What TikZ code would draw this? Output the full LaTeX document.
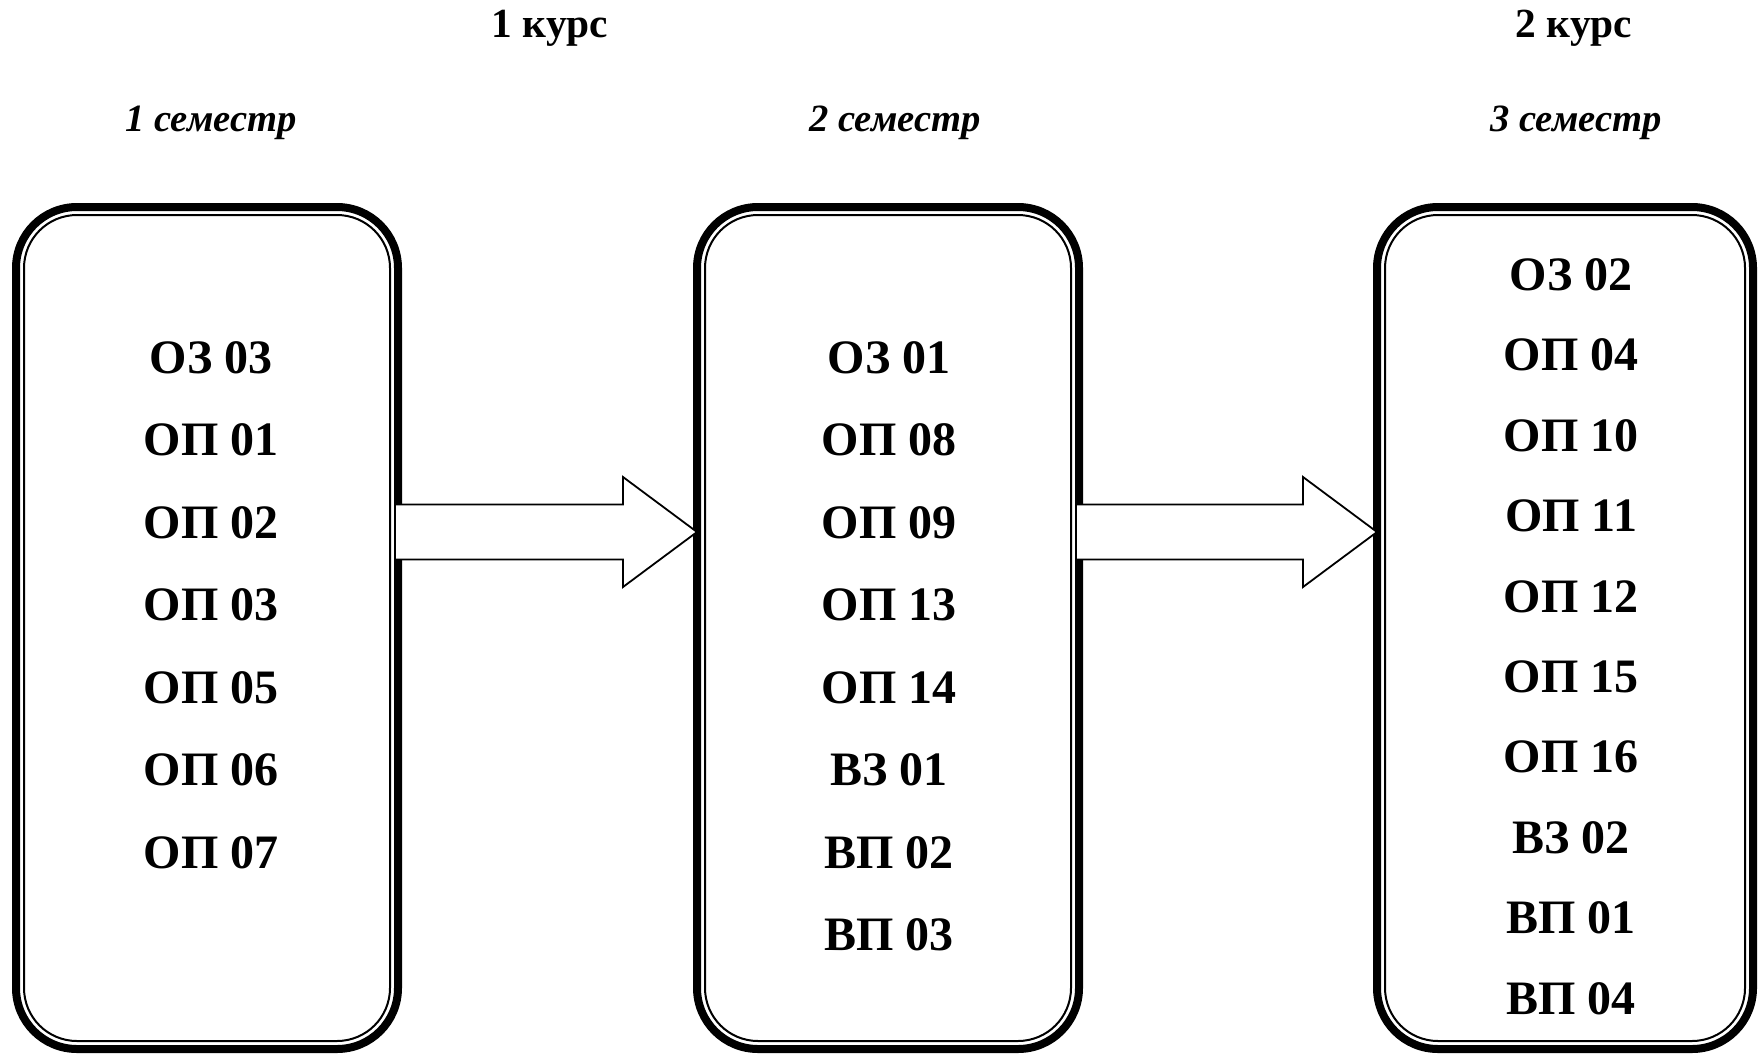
\documentclass[tikz,border=0pt]{standalone}
\usepackage{fontspec}
\setmainfont{Liberation Serif}
\usetikzlibrary{calc,positioning}

% hollow block arrow from one box to the next, at the height of #3
\newcommand{\hollowarrow}[3]{%
  \filldraw[fill=white, line width=0.9pt]
    ($(#1.east |- #3)+(-3,-27.5)$) -- ($(#2.west |- #3)+(-74,-27.5)$)
    -- ($(#2.west |- #3)+(-74,-55)$) -- (#2.west |- #3)
    -- ($(#2.west |- #3)+(-74,55)$) -- ($(#2.west |- #3)+(-74,27.5)$)
    -- ($(#1.east |- #3)+(-3,27.5)$) -- cycle;}

\begin{document}
\begin{tikzpicture}[x=0.5pt, y=-0.5pt,
    semester/.style={draw, line width=4pt, rounded corners=30.5pt, outer sep=0pt, inner sep=0pt, minimum width=191pt, minimum height=421pt},
    inner frame/.style={line width=1pt, rounded corners=26.5pt},
    item/.style={anchor=base, font=\fontsize{24}{24}\selectfont\bfseries},
    course/.style={anchor=base, font=\fontsize{20.7}{21}\selectfont\bfseries},
    term/.style={anchor=base, font=\fontsize{19.3}{19}\selectfont\bfseries\itshape}]

    \useasboundingbox (0,0) rectangle (1760,1054);

    \node[course] (k1) at (550,38) {1 курс};
    \node[course] (k2) at (1574,38) {2 курс};
    \node[term] (t1) at (211,132) {1 семестр};
    \node[term] (t2) at (895,132) {2 семестр};
    \node[term] (t3) at (1576,132) {3 семестр};

    \node[semester] (b1) at (207,628) {};
    \node[semester] (b2) at (888,628) {};
    \node[semester, minimum width=188pt] (b3) at (1565,628) {};
    \foreach \b in {b1,b2,b3}
        \draw[inner frame] ([shift={(8,8)}]\b.north west) rectangle ([shift={(-8,-8)}]\b.south east);

    \coordinate (lvl) at (0,532);
    \hollowarrow{b1}{b2}{lvl}
    \hollowarrow{b2}{b3}{lvl}

    \foreach \t [count=\i] in {ОЗ 03, ОП 01, ОП 02, ОП 03, ОП 05, ОП 06, ОП 07}
        \node[item] (s1-\i) at (211,{373+82.5*(\i-1)}) {\t};
    \foreach \t [count=\i] in {ОЗ 01, ОП 08, ОП 09, ОП 13, ОП 14, ВЗ 01, ВП 02, ВП 03}
        \node[item] (s2-\i) at (889,{373+82.5*(\i-1)}) {\t};
    \foreach \t [count=\i] in {ОЗ 02, ОП 04, ОП 10, ОП 11, ОП 12, ОП 15, ОП 16, ВЗ 02, ВП 01, ВП 04}
        \node[item] (s3-\i) at (1571,{290.5+80.4*(\i-1)}) {\t};
\end{tikzpicture}
\end{document}
